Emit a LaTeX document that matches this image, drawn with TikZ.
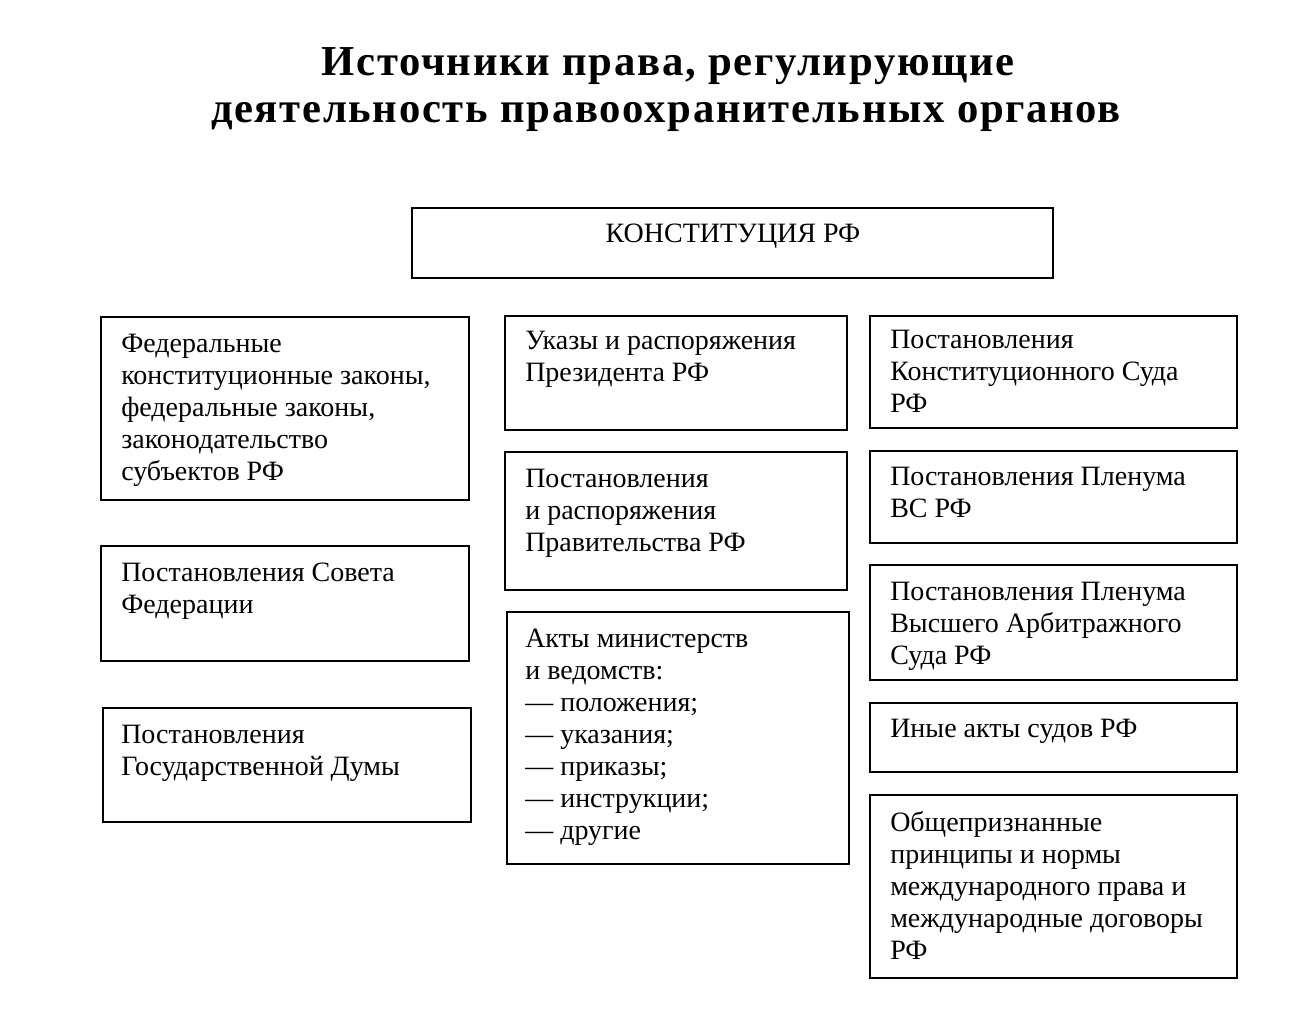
\documentclass[tikz,border=0pt]{standalone}
\usepackage{fontspec}
\setmainfont{Liberation Serif}
\newfontfamily\ttlfont[LetterSpace=4]{Liberation Serif}
\begin{document}
\begin{tikzpicture}[x=0.75pt,y=-0.75pt,
  box/.style={draw,line width=1.5pt},
  txt/.style={anchor=north west,align=left,font=\fontsize{21}{24}\selectfont,inner sep=0pt},
  ttl/.style={font=\ttlfont\fontsize{32}{36}\bfseries\selectfont,inner sep=0pt}]
\useasboundingbox (0,0) rectangle (1300,1025);
\node[ttl] (t1) at (668,66) {Источники права, регулирующие};
\node[ttl] (t2) at (666,117) {деятельность правоохранительных органов};
\draw[box] (412,208) rectangle (1053,278);
\node[txt,anchor=north] (k) at (733,224) {КОНСТИТУЦИЯ РФ};
% left
\draw[box] (101,317) rectangle (469,500);
\node[txt] (l1) at (121,334) {Федеральные\\конституционные законы,\\федеральные законы,\\законодательство\\субъектов РФ};
\draw[box] (101,546) rectangle (469,661);
\node[txt] (l2) at (121,563) {Постановления Совета\\Федерации};
\draw[box] (103,708) rectangle (471,822);
\node[txt] (l3) at (121,725) {Постановления\\Государственной Думы};
% middle
\draw[box] (505,316) rectangle (847,430);
\node[txt] (m1) at (525,331) {Указы и распоряжения\\Президента РФ};
\draw[box] (505,452) rectangle (847,590);
\node[txt] (m2) at (525,469) {Постановления\\и распоряжения\\Правительства РФ};
\draw[box] (507,612) rectangle (849,864);
\node[txt] (m3) at (525,629) {Акты министерств\\и ведомств:\\— положения;\\— указания;\\— приказы;\\— инструкции;\\— другие};
% right
\draw[box] (870,316) rectangle (1237,428);
\node[txt] (r1) at (890,330) {Постановления\\Конституционного Суда\\РФ};
\draw[box] (870,451) rectangle (1237,543);
\node[txt] (r2) at (890,467) {Постановления Пленума\\ВС РФ};
\draw[box] (870,565) rectangle (1237,680);
\node[txt] (r3) at (890,582) {Постановления Пленума\\Высшего Арбитражного\\Суда РФ};
\draw[box] (870,703) rectangle (1237,772);
\node[txt] (r4) at (890,719) {Иные акты судов РФ};
\draw[box] (870,795) rectangle (1237,978);
\node[txt] (r5) at (890,811) {Общепризнанные\\принципы и нормы\\международного права и\\международные договоры\\РФ};
\end{tikzpicture}
\end{document}
